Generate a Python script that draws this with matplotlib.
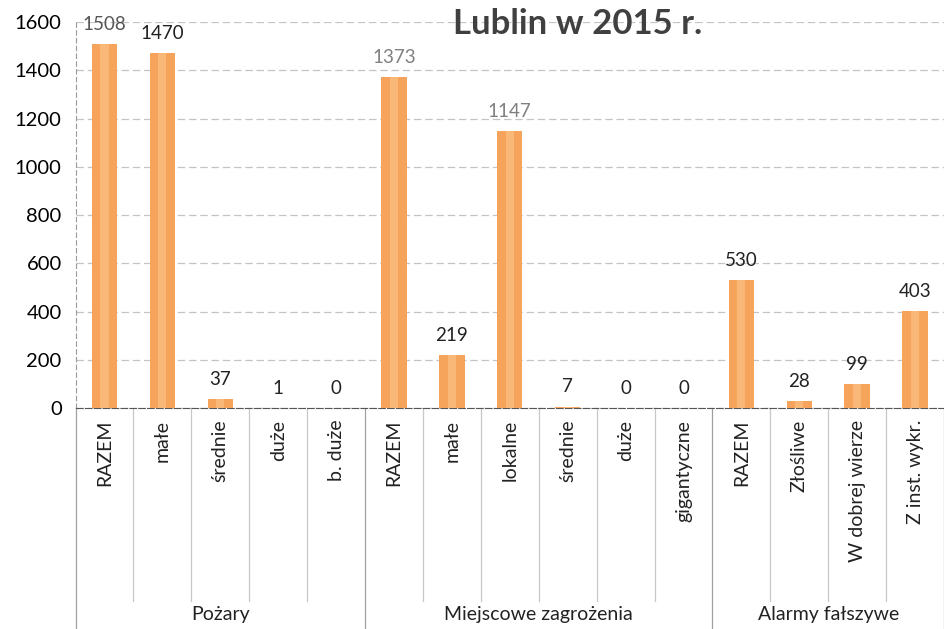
import numpy as np
import matplotlib.pyplot as plt
from matplotlib.transforms import blended_transform_factory

plt.rcParams['font.family'] = ['Lato', 'DejaVu Sans']

# Data
categories = ['RAZEM', 'małe', 'średnie', 'duże', 'b. duże',
              'RAZEM', 'małe', 'lokalne', 'średnie', 'duże', 'gigantyczne',
              'RAZEM', 'Złośliwe', 'W dobrej wierze', 'Z inst. wykr.']
values = [1508, 1470, 37, 1, 0,
          1373, 219, 1147, 7, 0, 0,
          530, 28, 99, 403]
groups = ['Pożary', 'Miejscowe zagrożenia', 'Alarmy fałszywe']
group_sizes = [5, 6, 4]
label_colors = ['#222222'] * 15
label_colors[5] = '#808080'
label_colors[7] = '#808080'
label_colors[0] = '#555555'

fig = plt.figure(figsize=(9.44, 6.29), dpi=100)
ax = fig.add_axes([0.08, 0.351, 0.92, 0.614])

x = np.arange(len(categories))
ax.bar(x, values, width=0.44, color='#F6A35B', zorder=3)
ax.bar(x, values, width=0.14, color='#F9B877', zorder=3)

for xi, v, c in zip(x, values, label_colors):
    ax.annotate(str(v), (xi, v), xytext=(0, 8), textcoords='offset points',
                ha='center', va='bottom', fontsize=13.5, color=c)

ax.set_xlim(-0.5, len(categories) - 0.5)
ax.set_ylim(0, 1600)
ax.set_yticks(np.arange(0, 1601, 200))
ax.tick_params(axis='y', labelsize=14.5, length=0, pad=10)
ax.set_xticks([])
ax.yaxis.grid(True, color='#c4c4c4', linestyle=(0, (6, 3)), linewidth=0.9, zorder=0)
for s in ['top', 'right']:
    ax.spines[s].set_visible(False)
ax.spines['left'].set_color('#999999')
ax.spines['left'].set_linestyle((0, (4, 3)))
ax.spines['bottom'].set_color('#555555')
ax.spines['bottom'].set_linestyle((0, (6, 2)))

# Category labels and separators below the axis
tr = blended_transform_factory(ax.transData, ax.transAxes)
for xi, cat in zip(x, categories):
    ax.text(xi, -0.03, cat, rotation=90, ha='center', va='top',
            fontsize=14, color='#222222', transform=tr)

bounds = np.cumsum([0] + group_sizes) - 0.5
for b in np.arange(-0.5, len(categories)):
    is_group = b in bounds
    ax.plot([b, b], [0, -0.50 if not is_group else -0.57], transform=tr,
            color='#c8c8c8' if not is_group else '#a0a0a0', linewidth=0.9,
            clip_on=False, zorder=1)

for g, lo, hi in zip(groups, bounds[:-1], bounds[1:]):
    ax.text((lo + hi) / 2, -0.535, g, ha='center', va='center',
            fontsize=14, color='#222222', transform=tr)

fig.text(0.612, 0.962, 'Lublin w 2015 r.', ha='center', va='center',
         fontsize=25, fontweight='bold', color='#404040')

fig.savefig('out.png', dpi=100)
